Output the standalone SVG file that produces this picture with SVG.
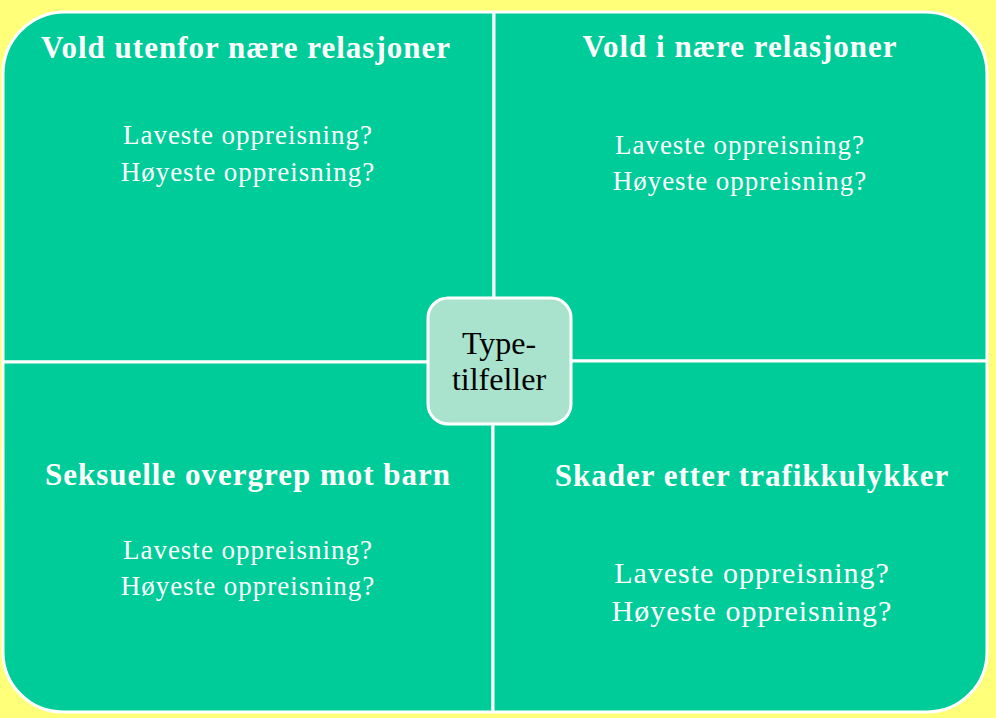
<svg xmlns="http://www.w3.org/2000/svg" width="996" height="718" viewBox="0 0 996 718">
<style>
.q{fill:#00CC99;stroke:#FFFFFF;stroke-width:3}
.t{font-family:"Liberation Serif","Times New Roman",serif;font-weight:bold;font-size:31px;letter-spacing:1px;fill:#FFFFFF;text-anchor:middle}
.b{font-family:"Liberation Serif","Times New Roman",serif;font-size:27px;letter-spacing:1px;fill:#FFFFFF;text-anchor:middle}
.c{font-family:"Liberation Serif","Times New Roman",serif;font-size:32px;fill:#000000;text-anchor:middle}
</style>
<rect x="0" y="0" width="996" height="718" fill="#FFFF7A"/>
<g id="q-tl">
<path class="q" d="M3,362 V74 A62,62 0 0 1 65,12 H494 V362 Z"/>
<text class="t" x="246" y="58">Vold utenfor nære relasjoner</text>
<text class="b" x="248" y="144">Laveste oppreisning?</text>
<text class="b" x="248" y="181">Høyeste oppreisning?</text>
</g>
<g id="q-tr">
<path class="q" d="M494,12 H925 A62,62 0 0 1 987,74 V361 H494 Z"/>
<text class="t" x="740" y="57">Vold i nære relasjoner</text>
<text class="b" x="740" y="154">Laveste oppreisning?</text>
<text class="b" x="740" y="190">Høyeste oppreisning?</text>
</g>
<g id="q-bl">
<path class="q" d="M3,362 H493 V712 H63 A60,60 0 0 1 3,652 Z"/>
<text class="t" x="248" y="485">Seksuelle overgrep mot barn</text>
<text class="b" x="248" y="559">Laveste oppreisning?</text>
<text class="b" x="248" y="595">Høyeste oppreisning?</text>
</g>
<g id="q-br">
<path class="q" d="M493,361 H987 V652 A60,60 0 0 1 927,712 H493 Z"/>
<text class="t" x="752" y="486">Skader etter trafikkulykker</text>
<text class="b" x="752" y="583" style="font-size:30px">Laveste oppreisning?</text>
<text class="b" x="752" y="621" style="font-size:30px">Høyeste oppreisning?</text>
</g>
<g id="center">
<rect x="428" y="298" width="143" height="126" rx="20" ry="20" fill="#A9E2CD" stroke="#FFFFFF" stroke-width="3"/>
<text class="c" x="499" y="354">Type-</text>
<text class="c" x="499" y="390">tilfeller</text>
</g>
<g id="connectors"></g>
</svg>
